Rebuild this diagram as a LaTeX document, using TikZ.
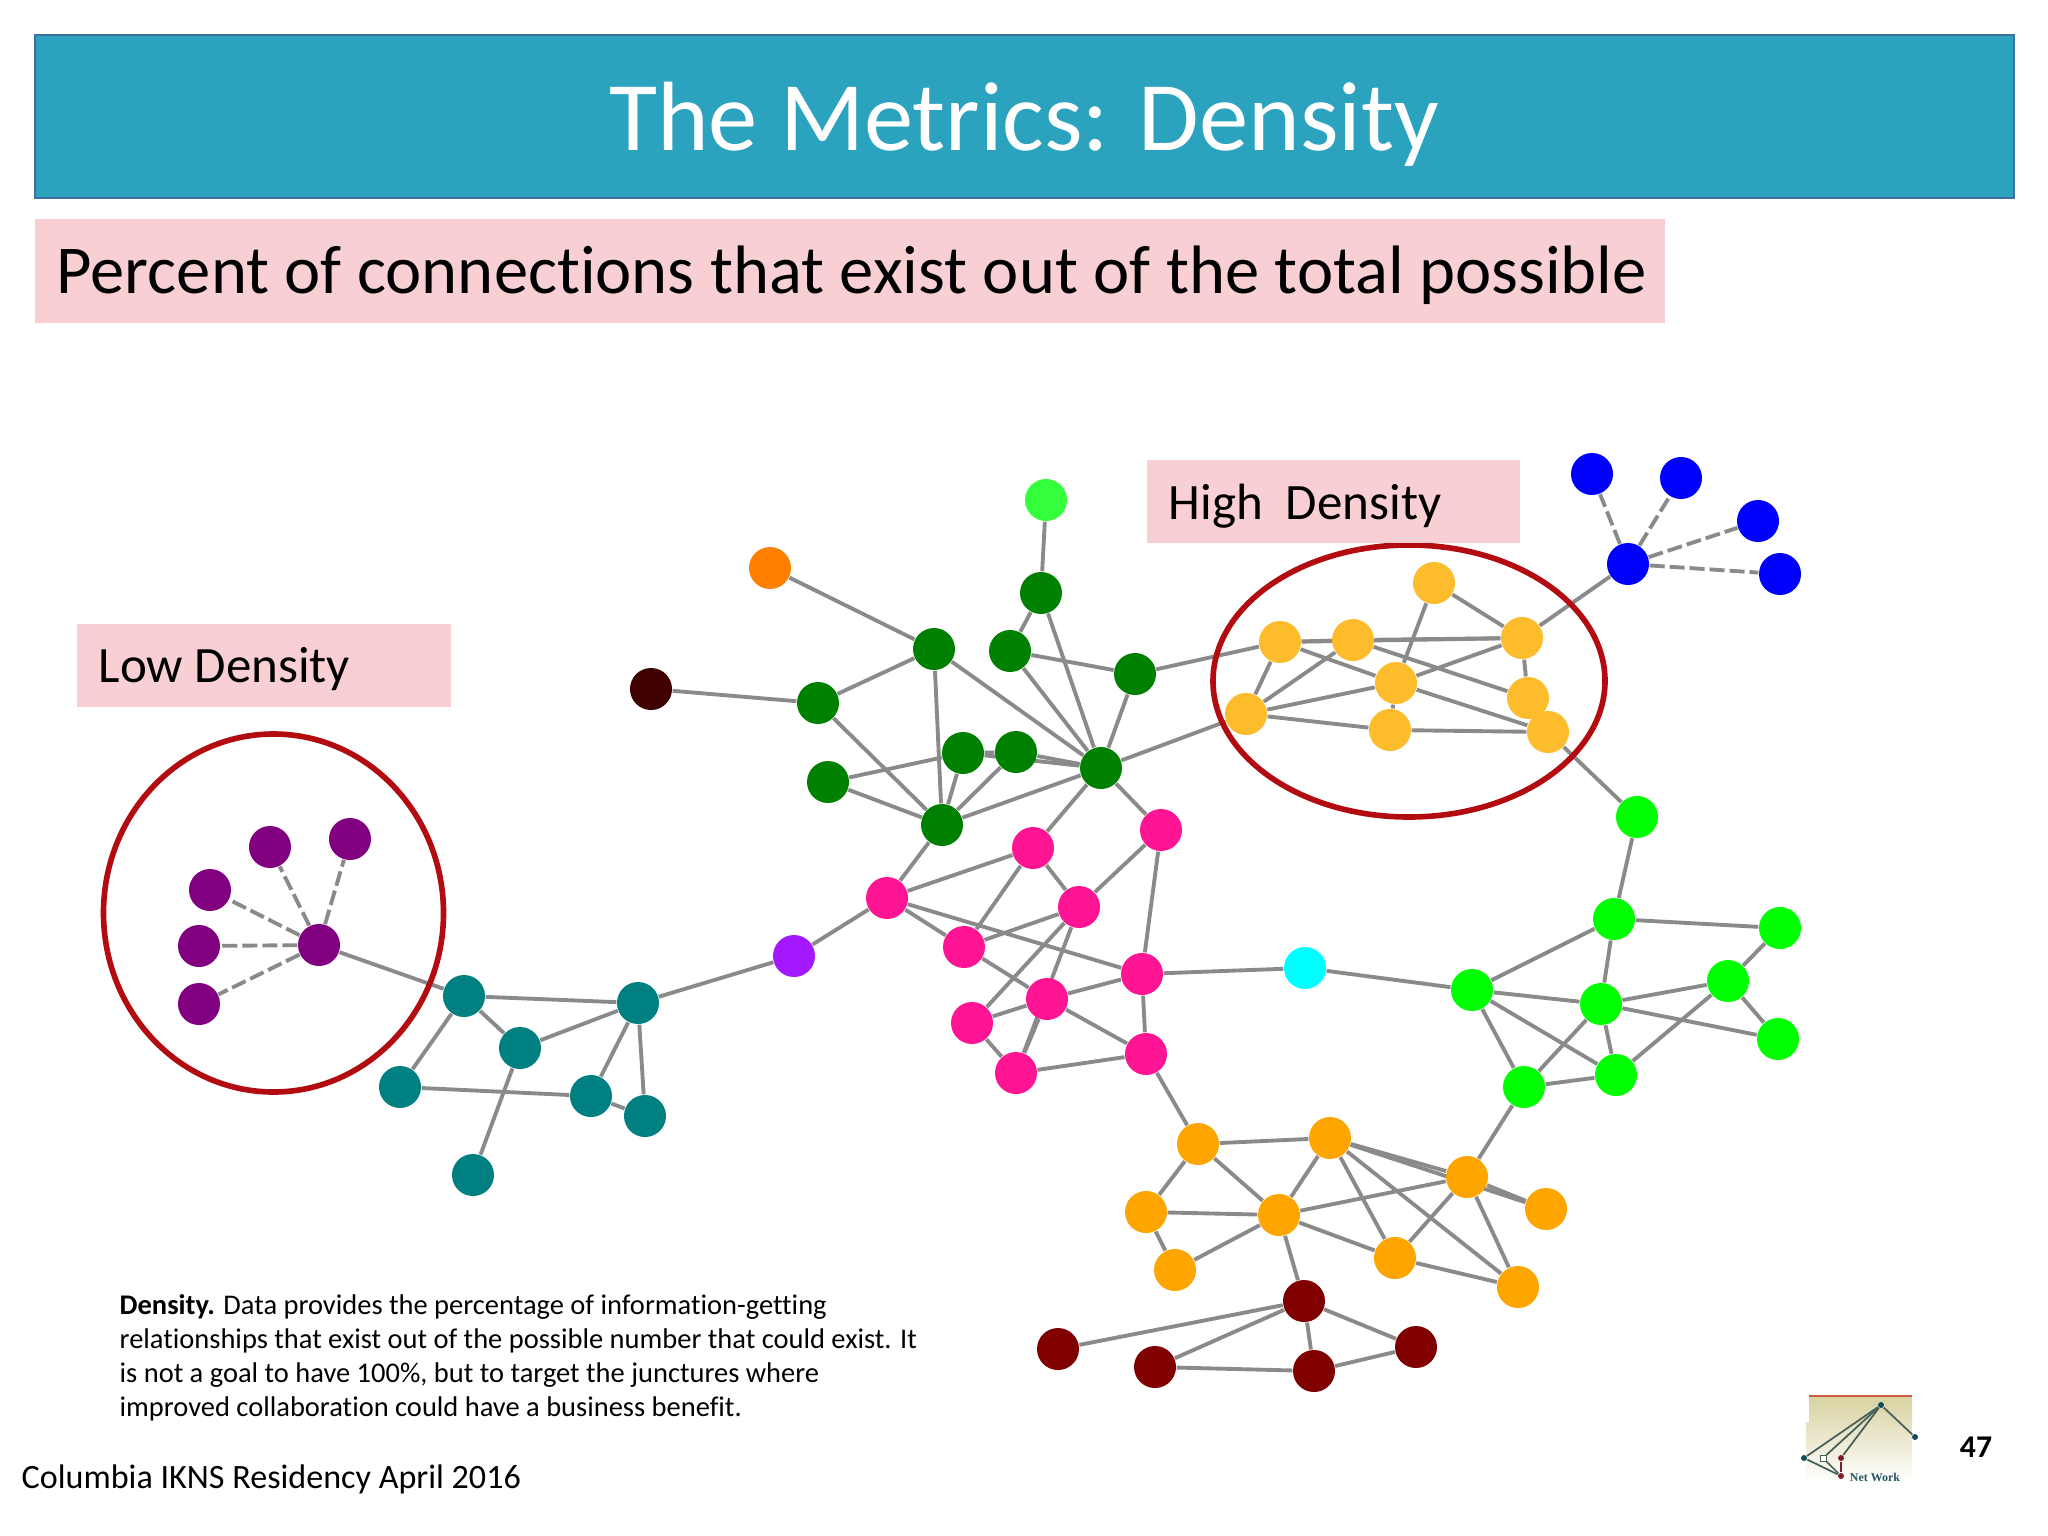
\documentclass[tikz,border=0pt]{standalone}
\usepackage{fontspec}
\setmainfont[Ligatures=NoCommon]{Carlito}
\usetikzlibrary{backgrounds}
\definecolor{barblue}{HTML}{2BA3BF}
\definecolor{barline}{HTML}{3F6FA0}
\definecolor{boxpink}{HTML}{F8D0D4}
\definecolor{ringred}{HTML}{B30C10}
\definecolor{edgegrey}{HTML}{8A8A8A}
\definecolor{netgold}{HTML}{FCBC2C}
\definecolor{netlime}{HTML}{33FF3D}
\definecolor{netviolet}{HTML}{A318FF}
\definecolor{netdark}{HTML}{3F0000}
\definecolor{netpurple}{HTML}{800080}
\definecolor{netteal}{HTML}{008080}
\definecolor{netamber}{HTML}{FF8000}
\definecolor{netgreen}{HTML}{008000}
\definecolor{netpink}{HTML}{FF1493}
\definecolor{netorange}{HTML}{FFA500}
\definecolor{netmaroon}{HTML}{800000}
\definecolor{netcyan}{HTML}{00FFFF}
\definecolor{netbright}{HTML}{00FF00}
\definecolor{netblue}{HTML}{0000FF}
\definecolor{logotop}{HTML}{D8D2A0}
\definecolor{logoteal}{HTML}{0F4C5C}
\definecolor{logored}{HTML}{7F1D2D}
\definecolor{logoline}{HTML}{CD5A46}
\definecolor{logostem}{HTML}{46605A}
\tikzstyle{netnode} = [circle,minimum size=0.42cm,inner sep=0pt]
\tikzstyle{edge} = [edgegrey,line width=1.1pt]
\tikzstyle{dashedge} = [edge,dash pattern=on 0.15cm off 0.05cm]
\tikzstyle{ring} = [draw=ringred,line width=1.6pt]
\tikzstyle{pinkbox} = [fill=boxpink]
\tikzstyle{logonode} = [circle,minimum size=0.06cm,inner sep=0pt]
\tikzstyle{logoedge} = [logostem,line width=0.5pt]

\begin{document}
\begin{tikzpicture}[x=0.01cm,y=-0.01cm]
        \useasboundingbox (0,0) rectangle (2048,1536);

        %title bar
        \draw [fill=barblue,draw=barline,line width=0.5pt] (35,35) rectangle (2014,198);
        \node at (1024,124) [white,font=\fontsize{28}{32}\selectfont] (title) {The Metrics: Density};

        %subtitle
        \fill [pinkbox] (35,219) rectangle (1665,323);
        \node at (56,275) [anchor=west,inner sep=0pt,font=\fontsize{19.5}{23}\selectfont] (subtitle) {Percent of connections that exist out of the total possible};

        %purple hub
        \node at (319,945) [netnode,fill=netpurple] (p0) {};
        \node at (270,847) [netnode,fill=netpurple] (p1) {};
        \node at (350,839) [netnode,fill=netpurple] (p2) {};
        \node at (210,890) [netnode,fill=netpurple] (p3) {};
        \node at (199,946) [netnode,fill=netpurple] (p4) {};
        \node at (199,1004) [netnode,fill=netpurple] (p5) {};

        %teal group
        \node at (464,996) [netnode,fill=netteal] (t1) {};
        \node at (638,1003) [netnode,fill=netteal] (t2) {};
        \node at (520,1048) [netnode,fill=netteal] (t3) {};
        \node at (400,1087) [netnode,fill=netteal] (t4) {};
        \node at (591,1096) [netnode,fill=netteal] (t5) {};
        \node at (645,1116) [netnode,fill=netteal] (t6) {};
        \node at (473,1175) [netnode,fill=netteal] (t7) {};

        %single nodes
        \node at (794,956) [netnode,fill=netviolet] (vi) {};
        \node at (651,689) [netnode,fill=netdark] (da) {};
        \node at (770,568) [netnode,fill=netamber] (am) {};
        \node at (1046,500) [netnode,fill=netlime] (li) {};
        \node at (1305,968) [netnode,fill=netcyan] (cy) {};

        %dark green group
        \node at (1041,593) [netnode,fill=netgreen] (g1) {};
        \node at (1010,651) [netnode,fill=netgreen] (g2) {};
        \node at (1135,674) [netnode,fill=netgreen] (g3) {};
        \node at (934,649) [netnode,fill=netgreen] (g4) {};
        \node at (818,703) [netnode,fill=netgreen] (g5) {};
        \node at (828,782) [netnode,fill=netgreen] (g6) {};
        \node at (963,753) [netnode,fill=netgreen] (g7) {};
        \node at (1016,752) [netnode,fill=netgreen] (g8) {};
        \node at (1101,768) [netnode,fill=netgreen] (g9) {};
        \node at (942,825) [netnode,fill=netgreen] (g10) {};

        %pink group
        \node at (887,898) [netnode,fill=netpink] (m1) {};
        \node at (1033,848) [netnode,fill=netpink] (m2) {};
        \node at (1161,830) [netnode,fill=netpink] (m3) {};
        \node at (1079,907) [netnode,fill=netpink] (m4) {};
        \node at (964,947) [netnode,fill=netpink] (m5) {};
        \node at (1142,974) [netnode,fill=netpink] (m6) {};
        \node at (1047,999) [netnode,fill=netpink] (m7) {};
        \node at (972,1023) [netnode,fill=netpink] (m8) {};
        \node at (1016,1073) [netnode,fill=netpink] (m9) {};
        \node at (1146,1054) [netnode,fill=netpink] (m10) {};

        %bright green group
        \node at (1637,817) [netnode,fill=netbright] (l1) {};
        \node at (1614,919) [netnode,fill=netbright] (l2) {};
        \node at (1780,928) [netnode,fill=netbright] (l3) {};
        \node at (1728,981) [netnode,fill=netbright] (l4) {};
        \node at (1601,1004) [netnode,fill=netbright] (l5) {};
        \node at (1472,990) [netnode,fill=netbright] (l6) {};
        \node at (1778,1039) [netnode,fill=netbright] (l7) {};
        \node at (1616,1075) [netnode,fill=netbright] (l8) {};
        \node at (1524,1087) [netnode,fill=netbright] (l9) {};

        %orange group
        \node at (1198,1144) [netnode,fill=netorange] (o1) {};
        \node at (1330,1138) [netnode,fill=netorange] (o2) {};
        \node at (1467,1177) [netnode,fill=netorange] (o3) {};
        \node at (1546,1209) [netnode,fill=netorange] (o4) {};
        \node at (1146,1212) [netnode,fill=netorange] (o5) {};
        \node at (1279,1215) [netnode,fill=netorange] (o6) {};
        \node at (1175,1270) [netnode,fill=netorange] (o7) {};
        \node at (1395,1258) [netnode,fill=netorange] (o8) {};
        \node at (1518,1287) [netnode,fill=netorange] (o9) {};

        %maroon group
        \node at (1304,1301) [netnode,fill=netmaroon] (r1) {};
        \node at (1058,1349) [netnode,fill=netmaroon] (r2) {};
        \node at (1155,1367) [netnode,fill=netmaroon] (r3) {};
        \node at (1314,1371) [netnode,fill=netmaroon] (r4) {};
        \node at (1416,1347) [netnode,fill=netmaroon] (r5) {};

        %gold group
        \node at (1434,583) [netnode,fill=netgold] (y1) {};
        \node at (1522,638) [netnode,fill=netgold] (y2) {};
        \node at (1280,642) [netnode,fill=netgold] (y3) {};
        \node at (1353,640) [netnode,fill=netgold] (y4) {};
        \node at (1396,683) [netnode,fill=netgold] (y5) {};
        \node at (1528,698) [netnode,fill=netgold] (y6) {};
        \node at (1246,714) [netnode,fill=netgold] (y7) {};
        \node at (1390,730) [netnode,fill=netgold] (y8) {};
        \node at (1548,732) [netnode,fill=netgold] (y9) {};

        %blue hub
        \node at (1628,564) [netnode,fill=netblue] (b0) {};
        \node at (1592,474) [netnode,fill=netblue] (b1) {};
        \node at (1681,478) [netnode,fill=netblue] (b2) {};
        \node at (1758,521) [netnode,fill=netblue] (b3) {};
        \node at (1780,574) [netnode,fill=netblue] (b4) {};

        %connections
        \begin{scope}[on background layer]
        \draw [dashedge] (p0) -- (p1);
        \draw [dashedge] (p0) -- (p2);
        \draw [dashedge] (p0) -- (p3);
        \draw [dashedge] (p0) -- (p4);
        \draw [dashedge] (p0) -- (p5);
        \draw [dashedge] (b0) -- (b1);
        \draw [dashedge] (b0) -- (b2);
        \draw [dashedge] (b0) -- (b3);
        \draw [dashedge] (b0) -- (b4);
        \draw [edge] (p0) -- (t1);
        \draw [edge] (t1) -- (t2);
        \draw [edge] (t1) -- (t3);
        \draw [edge] (t1) -- (t4);
        \draw [edge] (t2) -- (t3);
        \draw [edge] (t2) -- (t5);
        \draw [edge] (t2) -- (t6);
        \draw [edge] (t4) -- (t5);
        \draw [edge] (t5) -- (t6);
        \draw [edge] (t3) -- (t7);
        \draw [edge] (t2) -- (vi);
        \draw [edge] (vi) -- (m1);
        \draw [edge] (da) -- (g5);
        \draw [edge] (am) -- (g4);
        \draw [edge] (li) -- (g1);
        \draw [edge] (g1) -- (g2);
        \draw [edge] (g1) -- (g9);
        \draw [edge] (g2) -- (g3);
        \draw [edge] (g2) -- (g9);
        \draw [edge] (g3) -- (g9);
        \draw [edge] (g3) -- (y3);
        \draw [edge] (g4) -- (g5);
        \draw [edge] (g4) -- (g10);
        \draw [edge] (g4) -- (g9);
        \draw [edge] (g5) -- (g10);
        \draw [edge] (g6) -- (g7);
        \draw [edge] (g6) -- (g10);
        \draw [edge] (g7) -- (g8);
        \draw [edge] (g7) -- (g10);
        \draw [edge] (g8) -- (g10);
        \draw [edge] (g8) -- (g9);
        \draw [edge] (g7) -- (g9);
        \draw [edge] (g10) -- (g9);
        \draw [edge] (g9) -- (y7);
        \draw [edge] (g9) -- (m2);
        \draw [edge] (g9) -- (m3);
        \draw [edge] (g10) -- (m1);
        \draw [edge] (m1) -- (m2);
        \draw [edge] (m1) -- (m5);
        \draw [edge] (m1) -- (m6);
        \draw [edge] (m2) -- (m5);
        \draw [edge] (m2) -- (m4);
        \draw [edge] (m3) -- (m4);
        \draw [edge] (m3) -- (m6);
        \draw [edge] (m4) -- (m5);
        \draw [edge] (m4) -- (m8);
        \draw [edge] (m4) -- (m9);
        \draw [edge] (m5) -- (m7);
        \draw [edge] (m6) -- (m7);
        \draw [edge] (m6) -- (m10);
        \draw [edge] (m6) -- (cy);
        \draw [edge] (m7) -- (m8);
        \draw [edge] (m7) -- (m9);
        \draw [edge] (m7) -- (m10);
        \draw [edge] (m8) -- (m9);
        \draw [edge] (m9) -- (m10);
        \draw [edge] (m10) -- (o1);
        \draw [edge] (cy) -- (l6);
        \draw [edge] (l1) -- (y9);
        \draw [edge] (l1) -- (l2);
        \draw [edge] (l2) -- (l3);
        \draw [edge] (l2) -- (l5);
        \draw [edge] (l2) -- (l6);
        \draw [edge] (l3) -- (l4);
        \draw [edge] (l4) -- (l5);
        \draw [edge] (l4) -- (l7);
        \draw [edge] (l4) -- (l8);
        \draw [edge] (l5) -- (l6);
        \draw [edge] (l5) -- (l7);
        \draw [edge] (l5) -- (l8);
        \draw [edge] (l5) -- (l9);
        \draw [edge] (l6) -- (l8);
        \draw [edge] (l6) -- (l9);
        \draw [edge] (l8) -- (l9);
        \draw [edge] (l9) -- (o3);
        \draw [edge] (o1) -- (o2);
        \draw [edge] (o1) -- (o5);
        \draw [edge] (o1) -- (o6);
        \draw [edge] (o2) -- (o6);
        \draw [edge] (o2) -- (o3);
        \draw [edge] (o2) -- (o4);
        \draw [edge] (o2) -- (o8);
        \draw [edge] (o2) -- (o9);
        \draw [edge] (o3) -- (o4);
        \draw [edge] (o3) -- (o6);
        \draw [edge] (o3) -- (o8);
        \draw [edge] (o3) -- (o9);
        \draw [edge] (o5) -- (o6);
        \draw [edge] (o5) -- (o7);
        \draw [edge] (o6) -- (o7);
        \draw [edge] (o6) -- (o8);
        \draw [edge] (o8) -- (o9);
        \draw [edge] (o6) -- (r1);
        \draw [edge] (r1) -- (r2);
        \draw [edge] (r1) -- (r3);
        \draw [edge] (r1) -- (r4);
        \draw [edge] (r1) -- (r5);
        \draw [edge] (r3) -- (r4);
        \draw [edge] (r4) -- (r5);
        \draw [edge] (y1) -- (y2);
        \draw [edge] (y1) -- (y5);
        \draw [edge] (y2) -- (y3);
        \draw [edge] (y2) -- (y4);
        \draw [edge] (y2) -- (y5);
        \draw [edge] (y2) -- (y6);
        \draw [edge] (y2) -- (b0);
        \draw [edge] (y3) -- (y4);
        \draw [edge] (y3) -- (y5);
        \draw [edge] (y3) -- (y7);
        \draw [edge] (y4) -- (y7);
        \draw [edge] (y4) -- (y6);
        \draw [edge] (y5) -- (y7);
        \draw [edge] (y5) -- (y8);
        \draw [edge] (y5) -- (y9);
        \draw [edge] (y6) -- (y9);
        \draw [edge] (y7) -- (y8);
        \draw [edge] (y8) -- (y9);
        \end{scope}

        %circled areas
        \draw [ring] (273.5,913) ellipse (170 and 179);
        \draw [ring] (1409,681) ellipse (196 and 136);

        %labels
        \fill [pinkbox] (77,624) rectangle (451,707);
        \node at (98,669) [anchor=west,inner sep=0pt,font=\fontsize{14.5}{17}\selectfont] (lowlabel) {Low Density};
        \fill [pinkbox] (1147,460) rectangle (1520,543);
        \node at (1168,506) [anchor=west,inner sep=0pt,font=\fontsize{14.5}{17}\selectfont] (highlabel) {High\ \ Density};

        %note
        \node at (119,1358) [anchor=west,inner sep=0pt,align=left,font=\fontsize{8.1}{9.67}\selectfont] (note) {\textbf{Density.} Data provides the percentage of information-getting\\relationships that exist out of the possible number that could exist. It\\is not a goal to have 100\%, but to target the junctures where\\improved collaboration could have a business benefit.};

        %footer
        \node at (21,1479) [anchor=west,inner sep=0pt,font=\fontsize{9.7}{11}\selectfont] (footer) {Columbia IKNS Residency April 2016};
        \node at (1976,1447) [font=\bfseries\fontsize{9}{11}\selectfont] (pagenum) {47};

        %logo
        \shade [top color=logotop,bottom color=logotop!70!white] (1809,1396) rectangle (1912,1422);
        \shade [top color=logotop!70!white,bottom color=white] (1806,1422) rectangle (1912,1483);
        \draw [logoline,line width=0.5pt] (1809,1396) -- (1912,1396);
        \node at (1881,1405) [logonode,fill=logoteal] (ltop) {};
        \node at (1915,1437) [logonode,fill=logoteal] (lright) {};
        \node at (1804,1458) [logonode,fill=logoteal] (lleft) {};
        \node at (1823,1458) [draw=logostem,fill=white,minimum size=0.06cm,inner sep=0pt,line width=0.2pt] (lsquare) {};
        \node at (1841,1458) [logonode,fill=logored] (lred) {};
        \node at (1841,1476) [logonode,fill=logored] (lbottom) {};
        \draw [logoedge] (ltop) -- (lright);
        \draw [logoedge] (ltop) -- (lleft);
        \draw [logoedge] (ltop) -- (lsquare);
        \draw [logoedge] (ltop) -- (lred);
        \draw [logoedge] (lleft) -- (lbottom);
        \draw [logoedge] (lsquare) -- (lbottom);
        \draw [logored,line width=0.5pt] (lred) -- (lbottom);
        \node at (1875,1477) [logoteal!80!gray,font=\fontspec{Liberation Serif}\bfseries\fontsize{3.4}{4}\selectfont] (lname) {Net Work};
\end{tikzpicture}
\end{document}
